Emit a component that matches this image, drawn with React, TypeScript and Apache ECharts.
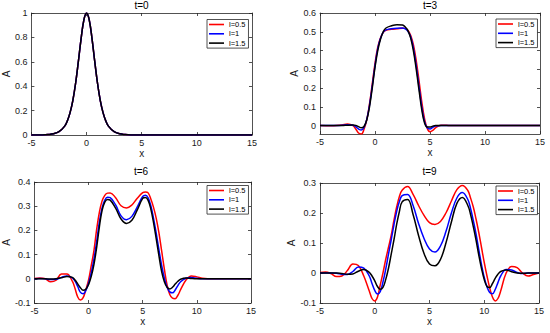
import React, { useEffect, useRef } from "react";
import * as echarts from "echarts";

const LEGEND = ["l=0.5", "l=1", "l=1.5"];
const COLORS = ["#ff0000", "#0000ff", "#000000"];
const TITLES = ["t=0", "t=3", "t=6", "t=9"];
const X_TICKS = [-5, 0, 5, 10, 15];
const Y_TICKS = [
  [0, 0.2, 0.4, 0.6, 0.8, 1],
  [0, 0.1, 0.2, 0.3, 0.4, 0.5, 0.6],
  [-0.1, 0, 0.1, 0.2, 0.3, 0.4],
  [-0.1, 0, 0.1, 0.2, 0.3],
];
const Y_RANGES = [
  [0, 1],
  [-0.045, 0.6],
  [-0.1, 0.4],
  [-0.1, 0.3],
];

// t = 0
const X0 = [-5, -4, -3.5, -3, -2.5, -2, -1.75, -1.5, -1.25, -1, -0.75, -0.5, -0.25, 0, 0.25, 0.5, 0.75, 1, 1.25, 1.5, 1.75, 2, 2.5, 3, 3.5, 4, 5, 15];
const A0 = [0, 0.001, 0.004, 0.01, 0.027, 0.071, 0.114, 0.181, 0.28, 0.42, 0.597, 0.786, 0.94, 1.0, 0.94, 0.786, 0.597, 0.42, 0.28, 0.181, 0.114, 0.071, 0.027, 0.01, 0.004, 0.001, 0, 0];

// t = 3
const X3 = [-5, -4, -3.5, -3, -2.5, -2, -1.75, -1.5, -1.25, -1, -0.75, -0.5, -0.25, 0, 0.25, 0.5, 0.75, 1, 1.5, 2, 2.5, 2.75, 3, 3.25, 3.5, 3.75, 4, 4.25, 4.5, 4.75, 5, 5.25, 5.5, 6, 6.5, 7, 15];
const A3_L05 = [0, -0.001, 0, 0.003, 0.008, 0, -0.018, -0.04, -0.045, -0.02, 0.03, 0.115, 0.222, 0.332, 0.418, 0.468, 0.497, 0.508, 0.513, 0.516, 0.519, 0.518, 0.507, 0.48, 0.428, 0.345, 0.24, 0.128, 0.038, -0.015, -0.033, -0.026, -0.012, 0.002, 0.001, 0, 0];
const A3_L1 = [0, 0, 0, 0.001, 0.004, 0.002, -0.006, -0.018, -0.024, -0.01, 0.033, 0.108, 0.21, 0.32, 0.41, 0.465, 0.498, 0.51, 0.516, 0.519, 0.52, 0.515, 0.502, 0.472, 0.41, 0.318, 0.208, 0.1, 0.022, -0.012, -0.018, -0.009, -0.002, 0, 0, 0, 0];
const A3_L15 = [0, 0, 0, 0, 0.002, 0.003, 0.001, -0.006, -0.012, -0.005, 0.03, 0.1, 0.2, 0.31, 0.4, 0.46, 0.5, 0.52, 0.532, 0.538, 0.536, 0.525, 0.505, 0.465, 0.395, 0.3, 0.19, 0.085, 0.015, -0.008, -0.008, -0.003, 0, 0, 0, 0, 0];

// t = 6
const X6 = [-5, -4.5, -4, -3.5, -3, -2.5, -2, -1.5, -1.25, -1, -0.75, -0.5, -0.25, 0, 0.25, 0.5, 0.75, 1, 1.25, 1.5, 1.75, 2, 2.5, 3, 3.5, 4, 4.5, 5, 5.25, 5.5, 5.75, 6, 6.25, 6.5, 6.75, 7, 7.25, 7.5, 7.75, 8, 8.25, 8.5, 9, 9.5, 10, 10.5, 11, 12, 15];
const A6_L05 = [0.001, 0.003, 0, -0.012, -0.006, 0.02, 0.02, -0.01, -0.04, -0.075, -0.088, -0.078, -0.045, -0.005, 0.055, 0.118, 0.205, 0.275, 0.322, 0.345, 0.354, 0.355, 0.335, 0.302, 0.293, 0.305, 0.333, 0.356, 0.359, 0.355, 0.33, 0.295, 0.25, 0.19, 0.115, 0.04, -0.025, -0.065, -0.08, -0.082, -0.068, -0.045, -0.005, 0.012, 0.008, 0.002, 0, 0, 0];
const A6_L1 = [0, 0.001, 0, -0.003, -0.002, 0.006, 0.012, 0.004, -0.01, -0.032, -0.056, -0.062, -0.048, -0.018, 0.025, 0.082, 0.155, 0.235, 0.293, 0.325, 0.337, 0.335, 0.305, 0.26, 0.244, 0.258, 0.297, 0.34, 0.345, 0.335, 0.302, 0.25, 0.188, 0.12, 0.055, 0.003, -0.035, -0.054, -0.058, -0.046, -0.028, -0.012, 0.002, 0.005, 0.002, 0, 0, 0, 0];
const A6_L15 = [0, 0, 0, -0.001, 0, 0.004, 0.01, 0.006, -0.005, -0.021, -0.037, -0.047, -0.043, -0.024, 0.01, 0.06, 0.13, 0.215, 0.283, 0.317, 0.328, 0.325, 0.292, 0.247, 0.229, 0.242, 0.285, 0.332, 0.336, 0.324, 0.288, 0.232, 0.165, 0.095, 0.03, -0.012, -0.035, -0.042, -0.035, -0.022, -0.01, -0.002, 0.003, 0.001, 0, 0, 0, 0, 0];

// t = 9
const X9 = [-5, -4.5, -4, -3.5, -3, -2.5, -2, -1.5, -1, -0.5, -0.25, 0, 0.25, 0.5, 0.75, 1, 1.25, 1.5, 1.75, 2, 2.25, 2.5, 3, 3.5, 4, 4.5, 5, 5.5, 6, 6.5, 7, 7.5, 8, 8.5, 8.75, 9, 9.25, 9.5, 9.75, 10, 10.25, 10.5, 10.75, 11, 11.25, 11.5, 12, 12.5, 13, 13.5, 14, 14.5, 15];
const A9_L05 = [0.002, 0.003, -0.002, -0.012, -0.01, 0.008, 0.03, 0.025, -0.01, -0.06, -0.085, -0.093, -0.08, -0.04, 0, 0.045, 0.085, 0.125, 0.175, 0.22, 0.255, 0.276, 0.288, 0.262, 0.225, 0.192, 0.168, 0.162, 0.172, 0.2, 0.24, 0.278, 0.292, 0.275, 0.25, 0.22, 0.18, 0.135, 0.085, 0.035, -0.01, -0.05, -0.08, -0.093, -0.085, -0.06, 0, 0.022, 0.018, 0, -0.01, -0.005, 0];
const A9_L1 = [0, 0, 0, -0.001, -0.004, -0.005, 0.005, 0.02, 0.016, -0.01, -0.035, -0.058, -0.07, -0.062, -0.03, 0.012, 0.062, 0.11, 0.16, 0.205, 0.238, 0.258, 0.262, 0.225, 0.165, 0.115, 0.08, 0.07, 0.09, 0.138, 0.2, 0.25, 0.268, 0.245, 0.215, 0.175, 0.13, 0.078, 0.028, -0.015, -0.046, -0.065, -0.069, -0.055, -0.032, -0.01, 0.012, 0.01, 0.002, -0.002, 0, 0, 0];
const A9_L15 = [0, 0, 0, 0, -0.002, -0.004, -0.003, 0.006, 0.012, 0.002, -0.01, -0.026, -0.045, -0.054, -0.048, -0.022, 0.015, 0.062, 0.11, 0.162, 0.205, 0.237, 0.245, 0.195, 0.125, 0.065, 0.03, 0.024, 0.045, 0.1, 0.17, 0.232, 0.252, 0.225, 0.195, 0.155, 0.11, 0.06, 0.015, -0.022, -0.045, -0.048, -0.035, -0.018, -0.004, 0.005, 0.01, 0.004, 0, -0.001, 0, 0, 0];

const PANELS = [
  { x: X0, ys: [A0, A0, A0] },
  { x: X3, ys: [A3_L05, A3_L1, A3_L15] },
  { x: X6, ys: [A6_L05, A6_L1, A6_L15] },
  { x: X9, ys: [A9_L05, A9_L1, A9_L15] },
];

const GRIDS = [
  { left: 31, top: 13, width: 221, height: 122 },
  { left: 320, top: 13, width: 220, height: 121 },
  { left: 31, top: 182, width: 220, height: 121 },
  { left: 320, top: 183, width: 219, height: 120 },
];
const TITLE_TOPS = [0, 0, 166, 166];
const LEGEND_POS = [
  [207, 19.5],
  [496, 19],
  [207, 185.5],
  [496, 186],
];

const FONT = "'Liberation Sans', Arial, Helvetica, sans-serif";
const AX = "#262626";

export default function App() {
  const ref = useRef<HTMLDivElement>(null);
  useEffect(() => {
    document.body.style.margin = "0";
    const chart = echarts.init(ref.current!, undefined, { renderer: "svg" });
    const axisLine = { show: true, onZero: false, lineStyle: { color: AX, width: 0.8 } };
    const tickStyle = { color: AX, width: 0.8 };
    const xAxes: any[] = [];
    const yAxes: any[] = [];
    for (const pos of ["bottom", "top"]) {
      GRIDS.forEach((_, i) => {
        const main = pos === "bottom";
        xAxes.push({
          type: "value",
          gridIndex: i,
          position: pos,
          min: -5,
          max: 15,
          interval: 5,
          name: main ? "x" : "",
          nameLocation: "middle",
          nameGap: 13,
          nameTextStyle: { fontSize: 10, color: "#1a1a1a", fontFamily: FONT },
          axisLine,
          axisTick: { show: true, inside: true, length: 3, lineStyle: tickStyle, customValues: X_TICKS },
          axisLabel: { show: main, fontSize: 9, color: "#1a1a1a", margin: 3, fontFamily: FONT, customValues: X_TICKS },
          splitLine: { show: false },
        });
      });
    }
    for (const pos of ["left", "right"]) {
      GRIDS.forEach((_, i) => {
        const main = pos === "left";
        yAxes.push({
          type: "value",
          gridIndex: i,
          position: pos,
          min: Y_RANGES[i][0],
          max: Y_RANGES[i][1],
          name: main ? "A" : "",
          nameLocation: "middle",
          nameGap: 15,
          nameTextStyle: { fontSize: 10, color: "#1a1a1a", fontFamily: FONT },
          axisLine,
          axisTick: { show: true, inside: true, length: 3, lineStyle: tickStyle, customValues: Y_TICKS[i] },
          axisLabel: { show: main, fontSize: 9, color: "#1a1a1a", margin: 4, fontFamily: FONT, customValues: Y_TICKS[i] },
          splitLine: { show: false },
        });
      });
    }
    const series: any[] = [];
    PANELS.forEach((p, i) => {
      p.ys.forEach((ys, j) => {
        series.push({
          type: "line",
          name: LEGEND[j],
          xAxisIndex: i,
          yAxisIndex: i,
          data: p.x.map((x, k) => [x, ys[k]]),
          symbol: "none",
          smooth: 0.4,
          silent: true,
          lineStyle: { color: COLORS[j], width: 1.5 },
          itemStyle: { color: COLORS[j] },
        });
      });
    });
    chart.setOption({
      animation: false,
      backgroundColor: "#fff",
      textStyle: { fontFamily: FONT },
      title: TITLES.map((t, i) => ({
        text: t,
        left: GRIDS[i].left + GRIDS[i].width / 2,
        top: TITLE_TOPS[i],
        textAlign: "center",
        padding: 0,
        textStyle: { fontSize: 10, fontWeight: "normal", color: "#000", fontFamily: FONT },
      })),
      grid: GRIDS.map((g) => ({ ...g, containLabel: false })),
      legend: LEGEND_POS.map(([l, t]) => ({
        show: true,
        orient: "vertical",
        left: l,
        top: t,
        data: LEGEND,
        icon: "rect",
        itemWidth: 15,
        itemHeight: 1.6,
        itemGap: 1.3,
        padding: [1, 3, 1, 2],
        borderColor: AX,
        borderWidth: 0.8,
        borderRadius: 0,
        backgroundColor: "#fff",
        selectedMode: false,
        textStyle: { fontSize: 7.5, color: "#000", fontFamily: FONT, lineHeight: 8 },
      })),
      xAxis: xAxes,
      yAxis: yAxes,
      series,
    });
    return () => chart.dispose();
  }, []);
  return <div ref={ref} style={{ position: "fixed", left: 0, top: 0, width: 550, height: 333 }} />;
}
